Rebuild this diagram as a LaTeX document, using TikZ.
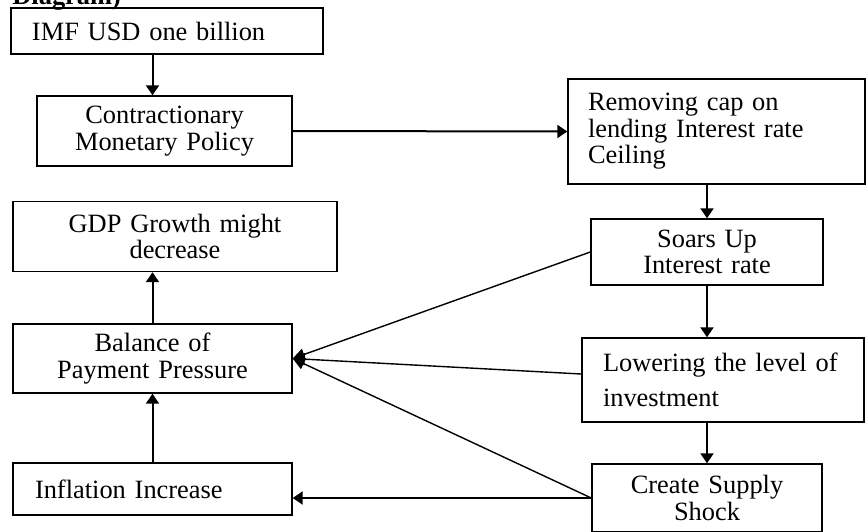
\documentclass[tikz,border=0pt]{standalone}
\usepackage{fontspec}
\setmainfont{Liberation Serif}
\usetikzlibrary{calc,arrows.meta}

\tikzset{
  box/.style={draw, line width=0.7pt, inner ysep=0pt,
    font=\fontsize{13.2}{13.3}\selectfont},
  flow/.style={-{Triangle[width=6.5pt,length=5pt]}, line width=1pt},
  feed/.style={-{Triangle[width=6pt,length=6pt]}, line width=0.7pt}
}

\begin{document}
\begin{tikzpicture}[x=0.5pt, y=-0.5pt]

  \clip (0,0) rectangle (866,531);

  % Caption cut at the top
  \node[anchor=base west, inner sep=0pt, font=\fontsize{13.2}{13.3}\selectfont\bfseries]
    (cap) at (12,4) {Diagram)};

  % Left column
  \node[box, minimum width=156pt, minimum height=23pt, inner xsep=10.5pt,
    text width=135pt, align=left] (imf) at (167,31) {IMF USD one billion};
  \node[box, minimum width=127.5pt, minimum height=35pt, inner xsep=3.75pt,
    text width=120pt, align=center] (contr) at (164.5,131)
    {Contractionary\\Monetary Policy};
  \node[box, minimum width=162pt, minimum height=35pt, inner xsep=3pt,
    text width=156pt, align=center] (gdp) at (175,236.5)
    {GDP Growth might\\decrease};
  \node[box, minimum width=139.5pt, minimum height=34.5pt, inner xsep=3pt,
    text width=133.5pt, align=center] (bop) at (152.5,358.5)
    {Balance of\\Payment Pressure};
  \node[box, minimum width=139.5pt, minimum height=26pt, inner xsep=11pt,
    text width=117.5pt, align=left] (infl) at (152.5,489) {Inflation Increase};

  % Right column
  \node[box, minimum width=148.5pt, minimum height=52.5pt, inner xsep=10pt,
    text width=128.5pt, align=left] (rem) at (716.5,131.5)
    {Removing cap on\\lending Interest rate\\Ceiling};
  \node[box, minimum width=116pt, minimum height=33pt, inner xsep=3pt,
    text width=110pt, align=center] (soars) at (707,252)
    {Soars Up\\Interest rate};
  \node[box, minimum width=141pt, minimum height=42pt, inner xsep=10.5pt,
    text width=120pt, align=left, font=\fontsize{13.2}{17.5}\selectfont]
    (low) at (723,380) {Lowering the level of\\investment};
  \node[box, minimum width=115pt, minimum height=34pt, inner xsep=3pt,
    text width=109pt, align=center] (shock) at (707,498)
    {Create Supply\\Shock};

  % Arrows
  \draw[flow] (imf.south -| bop) -- (contr.north -| bop);
  \draw[flow] (contr.east) -- (rem.west);
  \draw[flow] (rem.south -| soars) -- (soars.north);
  \draw[flow] (soars.south) -- (low.north -| soars);
  \draw[flow] (low.south -| soars) -- (shock.north);
  \draw[flow] (shock.west) -- (infl.east |- shock.west);
  \draw[flow] (infl.north) -- (bop.south);
  \draw[flow] (bop.north) -- (gdp.south -| bop);

  % Links into the balance of payment box
  \draw[feed] (soars.west) -- (bop.east);
  \draw[feed] ([yshift=3pt]low.west) -- (bop.east);
  \draw[feed] (shock.west) -- (bop.east);

\end{tikzpicture}
\end{document}
